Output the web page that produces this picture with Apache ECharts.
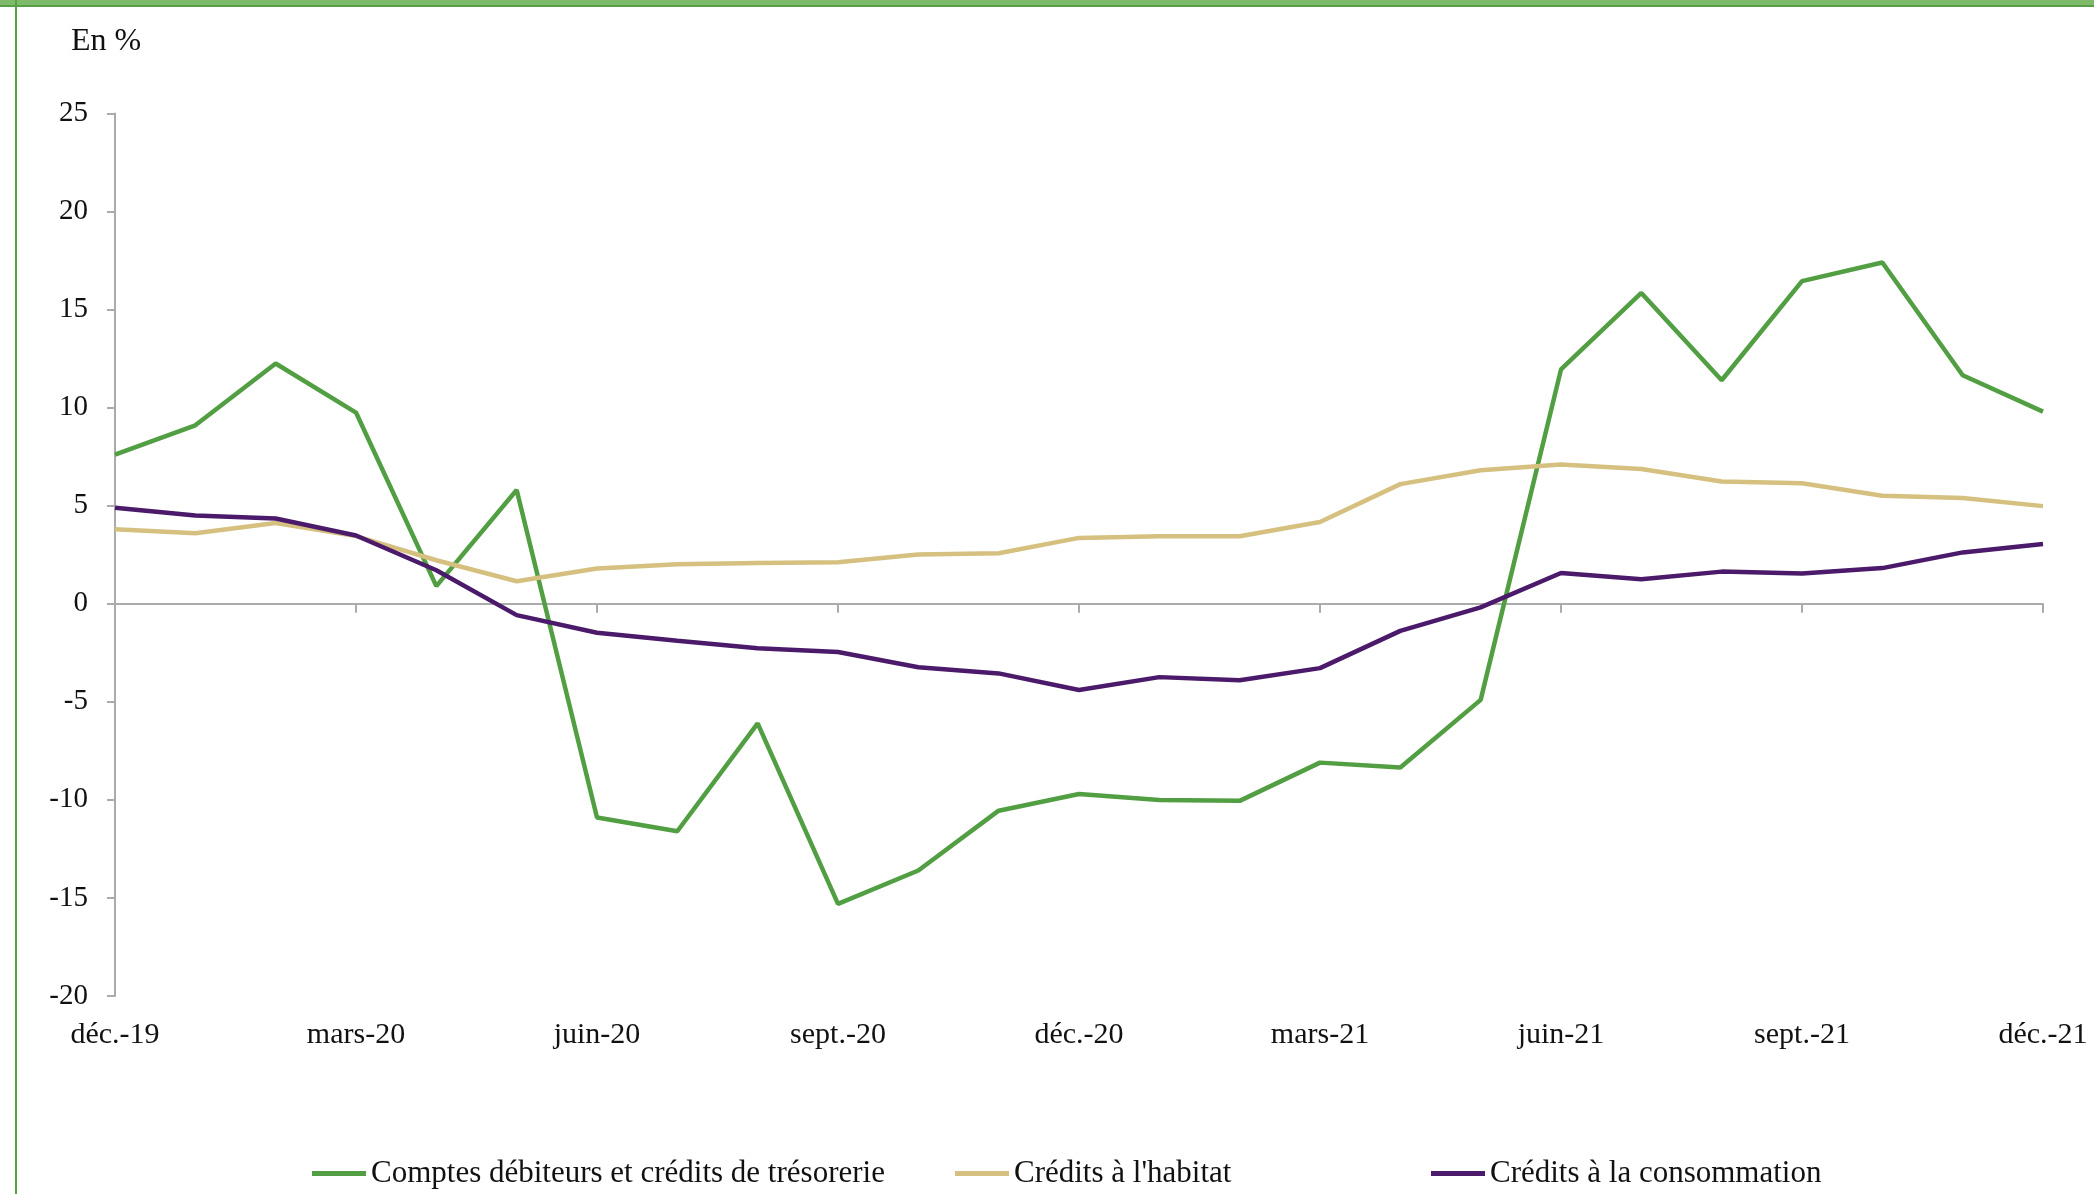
<!DOCTYPE html>
<html>
<head>
<meta charset="utf-8">
<script src="https://cdn.jsdelivr.net/npm/echarts@6/dist/echarts.min.js"></script>
<style>
  html, body { margin: 0; padding: 0; background: #fff; }
  #chart { width: 2094px; height: 1194px; }
</style>
</head>
<body>
<div id="chart"></div>
<script>
  // mois, déc.-19 à déc.-21
  var months = ['déc.-19', 'janv.-20', 'févr.-20', 'mars-20', 'avr.-20', 'mai-20', 'juin-20', 'juil.-20', 'août-20',
    'sept.-20', 'oct.-20', 'nov.-20', 'déc.-20', 'janv.-21', 'févr.-21', 'mars-21', 'avr.-21', 'mai-21',
    'juin-21', 'juil.-21', 'août-21', 'sept.-21', 'oct.-21', 'nov.-21', 'déc.-21']

  var comptesDebiteurs = [7.6, 9.1, 12.25, 9.75, 0.9, 5.8, -10.9, -11.6, -6.1, -15.3, -13.6, -10.55, -9.7,
    -10.0, -10.05, -8.1, -8.35, -4.9, 11.95, 15.85, 11.4, 16.45, 17.4, 11.65, 9.8]
  var creditsHabitat = [3.8, 3.6, 4.12, 3.45, 2.22, 1.15, 1.8, 2.02, 2.08, 2.12, 2.51, 2.58, 3.36,
    3.44, 3.44, 4.17, 6.1, 6.81, 7.1, 6.87, 6.24, 6.15, 5.51, 5.39, 4.98]
  var creditsConso = [4.9, 4.5, 4.35, 3.48, 1.71, -0.58, -1.48, -1.89, -2.27, -2.46, -3.24, -3.55, -4.4,
    -3.74, -3.9, -3.28, -1.38, -0.18, 1.57, 1.25, 1.64, 1.55, 1.82, 2.62, 3.05]

  var seriesNames = ['Comptes débiteurs et crédits de trésorerie', 'Crédits à l\'habitat', 'Crédits à la consommation']
  var seriesColors = ['#529e43', '#d5c07f', '#4b1a6a']

  var font = '"Liberation Serif", "DejaVu Serif", serif'
  var mychart = echarts.init(document.getElementById('chart'))

  function legendItem(i, left) {
    return {
      left: left,
      top: 1153,
      data: [seriesNames[i]],
      icon: 'rect',
      itemWidth: 54,
      itemHeight: 5,
      textStyle: {color: '#111', fontSize: 31, fontFamily: font}
    }
  }

  function lineSeries(i, data) {
    return {
      name: seriesNames[i],
      type: 'line',
      data: data,
      showSymbol: false,
      symbol: 'none',
      lineStyle: {color: seriesColors[i], width: 4.5},
      itemStyle: {color: seriesColors[i]}
    }
  }

  var option = {
    animation: false,
    backgroundColor: '#fff',
    textStyle: {fontFamily: font},
    graphic: [
      {type: 'rect', shape: {x: 0, y: 0, width: 2094, height: 6}, style: {fill: '#7dbb6b'}},
      {type: 'rect', shape: {x: 0, y: 5, width: 2094, height: 2}, style: {fill: '#57a046'}},
      {type: 'rect', shape: {x: 15, y: 0, width: 2, height: 1194}, style: {fill: '#57a046'}},
      {type: 'text', left: 71, top: 26, style: {text: 'En %', fill: '#111', fontSize: 32, fontFamily: font}}
    ],
    grid: {left: 115, right: 51, top: 113.5, bottom: 198},
    legend: [legendItem(0, 307), legendItem(1, 950), legendItem(2, 1426)],
    xAxis: [
      {
        type: 'category',
        data: months,
        boundaryGap: false,
        position: 'bottom',
        axisLine: {show: false, onZero: false},
        axisTick: {show: false},
        axisLabel: {
          interval: 2,
          margin: 24,
          color: '#111',
          fontSize: 30,
          fontFamily: font
        }
      },
      {
        type: 'category',
        data: months,
        boundaryGap: false,
        position: 'top',
        axisLine: {show: true, onZero: true, lineStyle: {color: '#ababab', width: 2}},
        axisTick: {show: true, inside: true, interval: 2, length: 9, lineStyle: {color: '#ababab', width: 2}},
        axisLabel: {show: false}
      }
    ],
    yAxis: {
      type: 'value',
      min: -20,
      max: 25,
      interval: 5,
      axisLine: {show: true, onZero: false, lineStyle: {color: '#ababab', width: 2}},
      axisTick: {show: true, length: 8, lineStyle: {color: '#ababab', width: 2}},
      splitLine: {show: false},
      axisLabel: {margin: 27, color: '#111', fontSize: 29, fontFamily: font}
    },
    series: [
      lineSeries(0, comptesDebiteurs),
      lineSeries(1, creditsHabitat),
      lineSeries(2, creditsConso)
    ]
  }
  mychart.setOption(option)
</script>
</body>
</html>
